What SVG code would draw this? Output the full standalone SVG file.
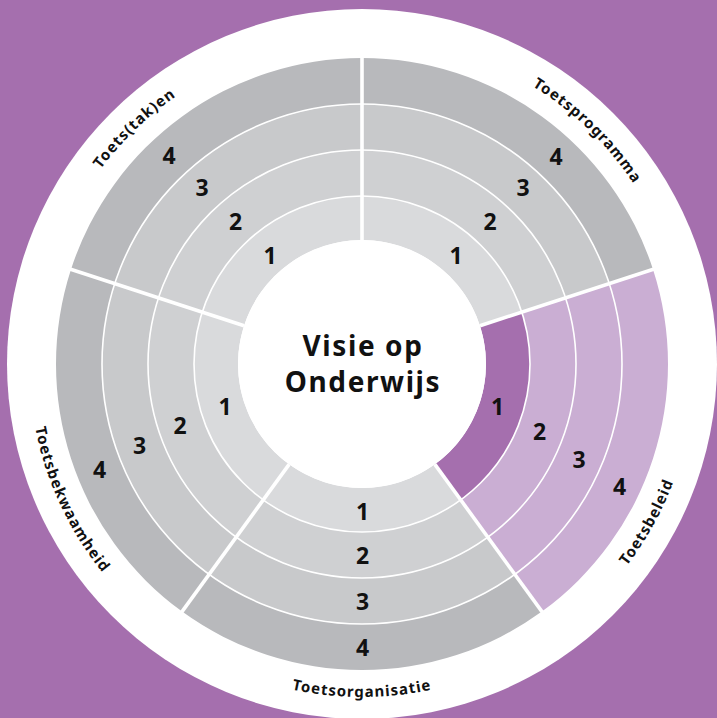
<svg xmlns="http://www.w3.org/2000/svg" width="717" height="718" viewBox="0 0 717 718">
<defs>
<style>
.r1{fill:#d9dadc}.r2{fill:#cfd0d2}.r3{fill:#c8c9cb}.r4{fill:#b8b9bc}
.p1{fill:#a56fae}.p2{fill:#caaed3}
.num{font-family:"Noto Sans","Open Sans",sans-serif;font-weight:700;font-size:23px;fill:#111;text-anchor:middle}
.lbl{font-family:"Noto Sans","Open Sans",sans-serif;font-weight:700;font-size:15px;fill:#111;letter-spacing:1px}
.ctr{font-family:"Noto Sans","Open Sans",sans-serif;font-weight:700;font-size:28px;fill:#111;letter-spacing:1.6px;text-anchor:middle}
.ring{fill:none;stroke:#fff;stroke-width:1.6}
.gap{stroke:#fff;stroke-width:3.6}
</style>
<path id="a-prog" d="M384.74,38.79 A326,326 0 0 1 686.21,329.92"/>
<path id="a-tak" d="M37.79,329.92 A326,326 0 0 1 339.26,38.79"/>
<path id="a-bel" d="M481.34,674.88 A333,333 0 0 0 688.88,300.46"/>
<path id="a-org" d="M147.95,619.09 A333,333 0 0 0 576.05,619.09"/>
<path id="a-bek" d="M40.35,277.81 A333,333 0 0 0 221.27,665.80"/>
</defs>
<rect width="717" height="718" fill="#a56fae"/>
<circle cx="362" cy="364" r="355" fill="#fff"/>

<g id="toetsprogramma">
<path class="r4" d="M362,58 A306,306 0 0 1 653.02,269.44 L609.27,283.66 A260,260 0 0 0 362,104 Z"/>
<path class="r3" d="M362,104 A260,260 0 0 1 609.27,283.66 L565.53,297.87 A214,214 0 0 0 362,150 Z"/>
<path class="r2" d="M362,150 A214,214 0 0 1 565.53,297.87 L521.78,312.09 A168,168 0 0 0 362,196 Z"/>
<path class="r1" d="M362,196 A168,168 0 0 1 521.78,312.09 L479.93,325.68 A124,124 0 0 0 362,240 Z"/>
<text class="num" x="456" y="263.5">1</text>
<text class="num" x="490" y="229.5">2</text>
<text class="num" x="523" y="195.5">3</text>
<text class="num" x="556" y="164.5">4</text>
<text class="lbl"><textPath href="#a-prog" startOffset="50%" text-anchor="middle">Toetsprogramma</textPath></text>
</g>

<g id="toetsbeleid">
<path class="p2" d="M653.02,269.44 A306,306 0 0 1 541.86,611.56 L514.82,574.34 A260,260 0 0 0 609.27,283.66 Z"/>
<path class="p2" d="M609.27,283.66 A260,260 0 0 1 514.82,574.34 L487.79,537.13 A214,214 0 0 0 565.53,297.87 Z"/>
<path class="p2" d="M565.53,297.87 A214,214 0 0 1 487.79,537.13 L460.75,499.91 A168,168 0 0 0 521.78,312.09 Z"/>
<path class="p1" d="M521.78,312.09 A168,168 0 0 1 460.75,499.91 L434.89,464.32 A124,124 0 0 0 479.93,325.68 Z"/>
<text class="num" x="497.5" y="415">1</text>
<text class="num" x="539.5" y="440">2</text>
<text class="num" x="579" y="467.5">3</text>
<text class="num" x="619.5" y="495">4</text>
<text class="lbl"><textPath href="#a-bel" startOffset="50%" text-anchor="middle">Toetsbeleid</textPath></text>
</g>

<g id="toetsorganisatie">
<path class="r4" d="M541.86,611.56 A306,306 0 0 1 182.14,611.56 L209.18,574.34 A260,260 0 0 0 514.82,574.34 Z"/>
<path class="r3" d="M514.82,574.34 A260,260 0 0 1 209.18,574.34 L236.21,537.13 A214,214 0 0 0 487.79,537.13 Z"/>
<path class="r2" d="M487.79,537.13 A214,214 0 0 1 236.21,537.13 L263.25,499.91 A168,168 0 0 0 460.75,499.91 Z"/>
<path class="r1" d="M460.75,499.91 A168,168 0 0 1 263.25,499.91 L289.11,464.32 A124,124 0 0 0 434.89,464.32 Z"/>
<text class="num" x="362.5" y="520">1</text>
<text class="num" x="362.5" y="563.5">2</text>
<text class="num" x="362.5" y="610">3</text>
<text class="num" x="362.5" y="655.5">4</text>
<text class="lbl"><textPath href="#a-org" startOffset="50%" text-anchor="middle">Toetsorganisatie</textPath></text>
</g>

<g id="toetsbekwaamheid">
<path class="r4" d="M182.14,611.56 A306,306 0 0 1 70.98,269.44 L114.73,283.66 A260,260 0 0 0 209.18,574.34 Z"/>
<path class="r3" d="M209.18,574.34 A260,260 0 0 1 114.73,283.66 L158.47,297.87 A214,214 0 0 0 236.21,537.13 Z"/>
<path class="r2" d="M236.21,537.13 A214,214 0 0 1 158.47,297.87 L202.22,312.09 A168,168 0 0 0 263.25,499.91 Z"/>
<path class="r1" d="M263.25,499.91 A168,168 0 0 1 202.22,312.09 L244.07,325.68 A124,124 0 0 0 289.11,464.32 Z"/>
<text class="num" x="225" y="415">1</text>
<text class="num" x="180" y="434">2</text>
<text class="num" x="139.5" y="453.5">3</text>
<text class="num" x="99.5" y="477.5">4</text>
<text class="lbl"><textPath href="#a-bek" startOffset="50%" text-anchor="middle">Toetsbekwaamheid</textPath></text>
</g>

<g id="toetstaken">
<path class="r4" d="M70.98,269.44 A306,306 0 0 1 362,58 L362,104 A260,260 0 0 0 114.73,283.66 Z"/>
<path class="r3" d="M114.73,283.66 A260,260 0 0 1 362,104 L362,150 A214,214 0 0 0 158.47,297.87 Z"/>
<path class="r2" d="M158.47,297.87 A214,214 0 0 1 362,150 L362,196 A168,168 0 0 0 202.22,312.09 Z"/>
<path class="r1" d="M202.22,312.09 A168,168 0 0 1 362,196 L362,240 A124,124 0 0 0 244.07,325.68 Z"/>
<text class="num" x="270" y="263.5">1</text>
<text class="num" x="235.5" y="229.5">2</text>
<text class="num" x="202" y="195.5">3</text>
<text class="num" x="169" y="163.5">4</text>
<text class="lbl"><textPath href="#a-tak" startOffset="50%" text-anchor="middle">Toets(tak)en</textPath></text>
</g>

<g id="connectors">
<circle class="ring" cx="362" cy="364" r="168"/>
<circle class="ring" cx="362" cy="364" r="214"/>
<circle class="ring" cx="362" cy="364" r="260"/>
<line class="gap" x1="362" y1="240" x2="362" y2="56"/>
<line class="gap" x1="479.93" y1="325.68" x2="654.92" y2="268.82"/>
<line class="gap" x1="434.89" y1="464.32" x2="543.04" y2="613.18"/>
<line class="gap" x1="289.11" y1="464.32" x2="180.96" y2="613.18"/>
<line class="gap" x1="244.07" y1="325.68" x2="69.08" y2="268.82"/>
</g>

<g id="visie">
<circle cx="362" cy="364" r="124" fill="#fff"/>
<text class="ctr" x="363" y="356">Visie op</text>
<text class="ctr" x="363" y="392">Onderwijs</text>
</g>
</svg>
